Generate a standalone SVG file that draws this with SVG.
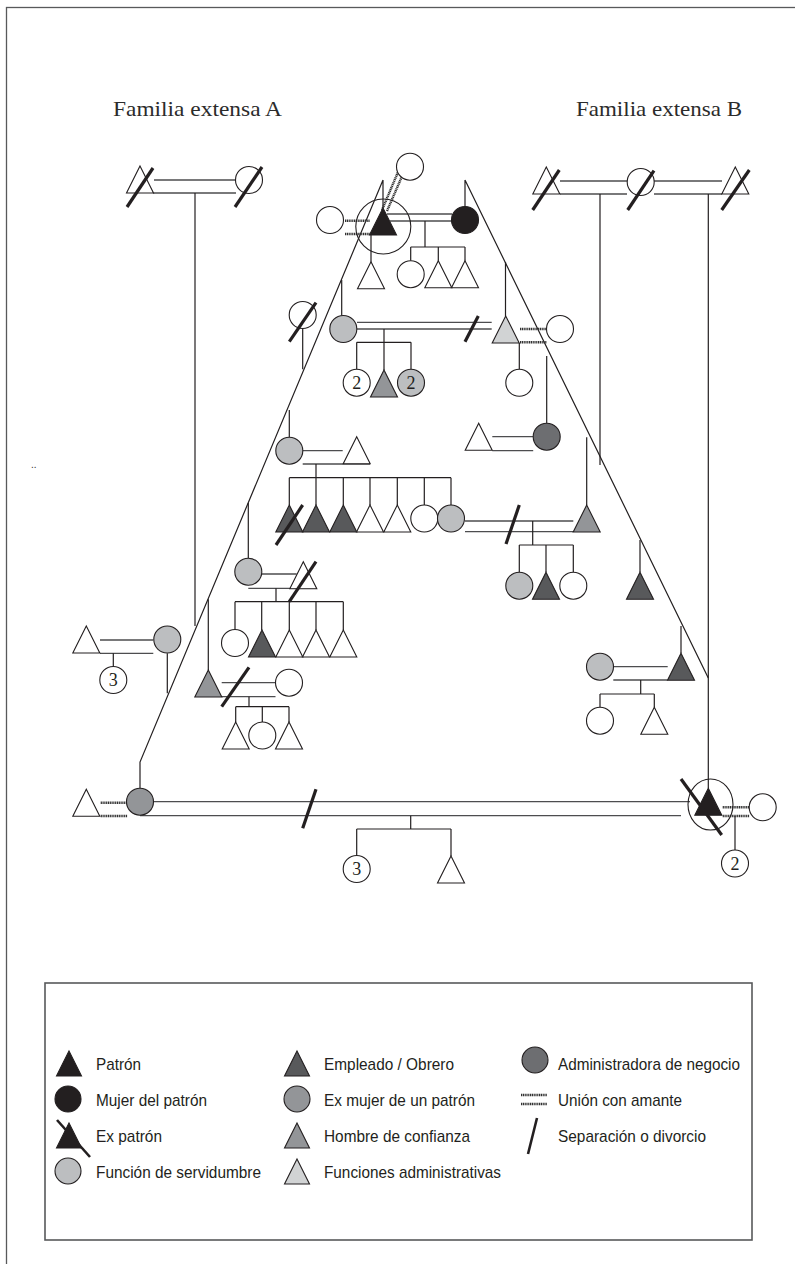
<svg xmlns="http://www.w3.org/2000/svg" width="795" height="1264" viewBox="0 0 795 1264">
<defs>
<polygon id="tri" points="0,0 13.5,27 -13.5,27"/>
<circle id="cir" r="13.5"/>
<polygon id="ltri" points="0,0 12.5,25 -12.5,25"/>
<circle id="lcir" r="13"/>
</defs>
<style>
.frame{fill:none;stroke:#58595b;stroke-width:1.3}
.ln{fill:none;stroke:#231f20;stroke-width:1.2}
.dbl{fill:none;stroke:#4d4d4f;stroke-width:1.3}
.lover{fill:none;stroke:#333;stroke-width:2.4;stroke-dasharray:1.2 0.6}
.slash{fill:none;stroke:#231f20;stroke-width:3.2}
.sym{stroke:#231f20;stroke-width:1.1}
.outline{fill:none;stroke:#231f20;stroke-width:1.1}
.white{fill:#fff}
.black{fill:#231f20}
.dark{fill:#58595b}
.admin{fill:#6d6e71}
.mid{fill:#939598}
.light{fill:#bcbec0}
.lightt{fill:#d1d3d4}
.num{font-family:"Liberation Serif","Times New Roman",serif;font-size:18px;text-anchor:middle;fill:#231f20}
.title{font-family:"Liberation Serif","Times New Roman",serif;font-size:21px;fill:#2b2b2b}
.leg{font-family:"Liberation Sans Narrow","Liberation Sans",Arial,sans-serif;font-size:17px;fill:#231f20}
.legbox{fill:none;stroke:#58595b;stroke-width:1.6}
</style>
<rect width="795" height="1264" fill="#fff"/>
<rect class="frame" x="6.5" y="7.5" width="820" height="1300"/>
<text class="title" x="113" y="116" textLength="169" lengthAdjust="spacingAndGlyphs">Familia extensa A</text>
<text class="title" x="576" y="116" textLength="166" lengthAdjust="spacingAndGlyphs">Familia extensa B</text>
<text x="31" y="468" font-family="Liberation Sans,sans-serif" font-size="10" fill="#333">..</text>

<g id="connectors">
<path class="ln" d="M383,180 L140,762 V788 M383,180 V208 M465,180 L708.3,678 M465,180 V206.5"/>
<path class="dbl" d="M154,180 H235.5 M153,193 H236"/>
<path class="ln" d="M195,193 V626"/>
<path class="dbl" d="M560,181 H627 M560,194 H627 M654,181 H722 M654,194 H722"/>
<path class="ln" d="M600,194 V465 M708.3,194 V788.3"/>
<path class="dbl" d="M387,214 H452 M390,221 H452"/>
<path class="ln" d="M425,221 V247 M410.7,247 H465 M410.7,247 V260.7 M438.3,247 V260.7 M465,247 V260.7 M371,235 V261.7"/>
<path class="lover" d="M345,220.7 H370 M345,234 H370 M382,210 L398,172 M387,211 L403,174"/>
<path class="ln" d="M341.7,280 V315.5 M302.7,328.5 V369.3 M505.5,262 V316 M519.3,343 V369.3 M546.7,356 V423.2"/>
<path class="dbl" d="M357,322.3 H491.7 M357,329 H491.7"/>
<path class="slash" d="M465,341.7 L478.3,316"/>
<path class="ln" d="M384,329 V370 M356.7,342.3 H411 M356.7,342.3 V369.2 M411,342.3 V369.2"/>
<path class="lover" d="M520,329 H546.5 M520,342.3 H546.5"/>
<path class="dbl" d="M492.3,436.7 H533.2 M492.3,450.7 H533.2"/>
<path class="ln" d="M289.3,410 V437.2"/>
<path class="dbl" d="M302.7,450.7 H342.7 M302.7,464 H370"/>
<path class="ln" d="M316,464 V477.7 M289.3,477.7 H451 M289.3,477.7 V505 M316,477.7 V505 M343.3,477.7 V505 M370,477.7 V505 M397.3,477.7 V505 M424.3,477.7 V505 M451,477.7 V505"/>
<path class="dbl" d="M465,521 H573.3 M465,531.7 H573.3"/>
<path class="slash" d="M506,544 L519.3,505"/>
<path class="ln" d="M532.7,521 V545 M519.3,545 H573.3 M519.3,545 V572.2 M546,545 V572.3 M573.3,545 V572.2 M586.7,437.3 V505"/>
<path class="ln" d="M640,540 V572.3 M681,626 V653.3"/>
<path class="dbl" d="M613.3,666.7 H667.7 M613.3,680 H667.7"/>
<path class="ln" d="M640.7,680 V694 M600,694 H654.3 M600,694 V707.2 M654.3,694 V707.3"/>
<path class="ln" d="M248.3,503 V558.2"/>
<path class="dbl" d="M261.7,574 H296.7 M248.3,588.3 H316.7"/>
<path class="ln" d="M276,588.3 V601.7 M235,601.7 H343.3 M235,601.7 V629.5 M261.7,601.7 V630 M289.3,601.7 V630 M316,601.7 V630 M343.3,601.7 V630"/>
<path class="ln" d="M208.3,599.3 V670"/>
<path class="dbl" d="M221.7,682.7 H275.5 M221.7,696.7 H275.5"/>
<path class="slash" d="M221.7,706.7 L249,667.3"/>
<path class="ln" d="M249,696.7 V706.7 M235.7,706.7 H289 M235.7,706.7 V722 M262.3,706.7 V722 M289,706.7 V722"/>
<path class="dbl" d="M100,640 H153.3 M100,653.3 H153.3"/>
<path class="ln" d="M113.3,653.3 V666.5 M167.3,653.2 V693.3"/>
<path class="lover" d="M100.7,802.7 H127.3 M100.7,816 H127.3"/>
<path class="dbl" d="M154,801.7 H690 M140,815.7 H681"/>
<path class="slash" d="M302.7,828.3 L316,789.3"/>
<path class="ln" d="M410.7,815.7 V829 M356.7,829 H451 M356.7,829 V855.5 M451,829 V856"/>
<path class="lover" d="M722.7,807.3 H749.3 M722.7,816 H749.3"/>
<path class="ln" d="M735,816 V850"/>
</g>

<g id="famA-husband"><use href="#tri" x="140" y="166" class="sym white"/><path class="slash" d="M127,207 L153,168"/></g>
<g id="famA-wife"><use href="#cir" x="249" y="180" class="sym white"/><path class="slash" d="M235,207 L262,167"/></g>
<g id="famB-husband1"><use href="#tri" x="546.3" y="167" class="sym white"/><path class="slash" d="M532.7,210 L559.3,170"/></g>
<g id="famB-wife"><use href="#cir" x="640.7" y="182" class="sym white"/><path class="slash" d="M627.7,210 L654,170.7"/></g>
<g id="famB-husband2"><use href="#tri" x="735.3" y="167" class="sym white"/><path class="slash" d="M721.7,210 L749.3,170"/></g>

<g id="patron"><circle class="outline" cx="383.3" cy="226.5" r="27.5"/><use href="#tri" x="383" y="208" class="sym black"/></g>
<g id="patron-wife"><use href="#cir" x="465" y="220" class="sym black"/></g>
<g id="patron-lover1"><use href="#cir" x="330" y="220" class="sym white"/></g>
<g id="patron-lover2"><use href="#cir" x="410" y="166.7" class="sym white"/></g>
<g id="patron-child1"><use href="#tri" x="371" y="261.7" class="sym white"/></g>
<g id="patron-child2"><use href="#cir" x="410.7" y="274.2" class="sym white"/></g>
<g id="patron-child3"><use href="#tri" x="438.3" y="260.7" class="sym white"/></g>
<g id="patron-child4"><use href="#tri" x="465" y="260.7" class="sym white"/></g>

<g id="g2-exwife"><use href="#cir" x="302.7" y="315" class="sym white"/><path class="slash" d="M289.3,341.7 L316,302.7"/></g>
<g id="g2-servant"><use href="#cir" x="343.3" y="329" class="sym light"/></g>
<g id="g2-admin-man"><use href="#tri" x="505.7" y="316" class="sym lightt"/></g>
<g id="g2-lover"><use href="#cir" x="560" y="329" class="sym white"/></g>
<g id="g2-child-right"><use href="#cir" x="519.3" y="382.8" class="sym white"/></g>
<g id="g2-child1"><use href="#cir" x="356.7" y="382.7" class="sym white"/><text class="num" x="356.7" y="388.7">2</text></g>
<g id="g2-child2"><use href="#tri" x="384" y="370" class="sym mid"/></g>
<g id="g2-child3"><use href="#cir" x="411" y="382.7" class="sym light"/><text class="num" x="411" y="388.7">2</text></g>
<g id="admin-husband"><use href="#tri" x="478.7" y="423.3" class="sym white"/></g>
<g id="admin-woman"><use href="#cir" x="546.7" y="436.7" class="sym admin"/></g>

<g id="g3-mother"><use href="#cir" x="289.3" y="450.7" class="sym light"/></g>
<g id="g3-father"><use href="#tri" x="356.7" y="436.7" class="sym white"/></g>
<g id="g3-child1"><use href="#tri" x="289.3" y="505" class="sym dark"/><path class="slash" d="M276,545 L302.7,505"/></g>
<g id="g3-child2"><use href="#tri" x="316" y="505" class="sym dark"/></g>
<g id="g3-child3"><use href="#tri" x="343.3" y="505" class="sym dark"/></g>
<g id="g3-child4"><use href="#tri" x="370" y="505" class="sym white"/></g>
<g id="g3-child5"><use href="#tri" x="397.3" y="505" class="sym white"/></g>
<g id="g3-child6"><use href="#cir" x="424.3" y="518.5" class="sym white"/></g>
<g id="g3-child7"><use href="#cir" x="451" y="518.5" class="sym light"/></g>
<g id="trusted-man"><use href="#tri" x="586.7" y="505" class="sym mid"/></g>
<g id="g4-child1"><use href="#cir" x="519.3" y="585.7" class="sym light"/></g>
<g id="g4-child2"><use href="#tri" x="546" y="572.3" class="sym dark"/></g>
<g id="g4-child3"><use href="#cir" x="573.3" y="585.7" class="sym white"/></g>

<g id="right-worker1"><use href="#tri" x="640" y="572.3" class="sym dark"/></g>
<g id="right-worker2"><use href="#tri" x="681" y="653.3" class="sym dark"/></g>
<g id="right-wife"><use href="#cir" x="600" y="666.7" class="sym light"/></g>
<g id="right-child1"><use href="#cir" x="600" y="720.7" class="sym white"/></g>
<g id="right-child2"><use href="#tri" x="654.3" y="707.3" class="sym white"/></g>

<g id="left-mother"><use href="#cir" x="248.3" y="571.7" class="sym light"/></g>
<g id="left-father"><use href="#tri" x="303.3" y="561.7" class="sym white"/><path class="slash" d="M289.3,601.7 L316,561.7"/></g>
<g id="left-child1"><use href="#cir" x="235" y="643" class="sym white"/></g>
<g id="left-child2"><use href="#tri" x="262" y="630" class="sym dark"/></g>
<g id="left-child3"><use href="#tri" x="289.3" y="630" class="sym white"/></g>
<g id="left-child4"><use href="#tri" x="316" y="630" class="sym white"/></g>
<g id="left-child5"><use href="#tri" x="343.3" y="630" class="sym white"/></g>
<g id="trusted-man-left"><use href="#tri" x="208.3" y="670" class="sym mid"/></g>
<g id="trusted-wife-left"><use href="#cir" x="289" y="682.7" class="sym white"/></g>
<g id="tl-child1"><use href="#tri" x="235.7" y="722" class="sym white"/></g>
<g id="tl-child2"><use href="#cir" x="262.3" y="735.5" class="sym white"/></g>
<g id="tl-child3"><use href="#tri" x="289" y="722" class="sym white"/></g>
<g id="far-left-husband"><use href="#tri" x="86.3" y="626" class="sym white"/></g>
<g id="far-left-wife"><use href="#cir" x="167.3" y="639.5" class="sym light"/></g>
<g id="far-left-children"><use href="#cir" x="113.3" y="680" class="sym white"/><text class="num" x="113.3" y="686">3</text></g>

<g id="bottom-lover-left"><use href="#tri" x="86.3" y="789.3" class="sym white"/></g>
<g id="bottom-exwife"><use href="#cir" x="140" y="801.7" class="sym mid"/></g>
<g id="bottom-children1"><use href="#cir" x="356.7" y="869" class="sym white"/><text class="num" x="356.7" y="875">3</text></g>
<g id="bottom-child2"><use href="#tri" x="451" y="856" class="sym white"/></g>
<g id="ex-patron"><ellipse class="outline" cx="710.5" cy="804.5" rx="22.5" ry="25.5"/><use href="#tri" x="708.3" y="788.3" class="sym black"/><path class="slash" d="M681,779 L721.7,835"/></g>
<g id="ex-patron-lover"><use href="#cir" x="762.7" y="807.3" class="sym white"/></g>
<g id="ex-patron-children"><use href="#cir" x="735" y="863.5" class="sym white"/><text class="num" x="735" y="869.5">2</text></g>

<g id="legend">
<rect class="legbox" x="45" y="983" width="707" height="257"/>
<use href="#ltri" x="69" y="1051" class="sym black"/>
<text class="leg" x="96" y="1070" textLength="45" lengthAdjust="spacingAndGlyphs">Patrón</text>
<use href="#lcir" x="68" y="1099" class="sym black"/>
<text class="leg" x="96" y="1106" textLength="111" lengthAdjust="spacingAndGlyphs">Mujer del patrón</text>
<use href="#ltri" x="69" y="1123" class="sym black"/>
<path class="slash" d="M57,1120 L90,1157" style="stroke-width:2.6"/>
<text class="leg" x="96" y="1142" textLength="66" lengthAdjust="spacingAndGlyphs">Ex patrón</text>
<use href="#lcir" x="68" y="1171" class="sym light"/>
<text class="leg" x="96" y="1178" textLength="165" lengthAdjust="spacingAndGlyphs">Función de servidumbre</text>
<use href="#ltri" x="297" y="1051" class="sym dark"/>
<text class="leg" x="324" y="1070" textLength="130" lengthAdjust="spacingAndGlyphs">Empleado / Obrero</text>
<use href="#lcir" x="297" y="1099" class="sym mid"/>
<text class="leg" x="324" y="1106" textLength="151" lengthAdjust="spacingAndGlyphs">Ex mujer de un patrón</text>
<use href="#ltri" x="297" y="1123" class="sym mid"/>
<text class="leg" x="324" y="1142" textLength="146" lengthAdjust="spacingAndGlyphs">Hombre de confianza</text>
<use href="#ltri" x="297" y="1159" class="sym lightt"/>
<text class="leg" x="324" y="1178" textLength="177" lengthAdjust="spacingAndGlyphs">Funciones administrativas</text>
<use href="#lcir" x="535" y="1060" class="sym admin"/>
<text class="leg" x="558" y="1070" textLength="182" lengthAdjust="spacingAndGlyphs">Administradora de negocio</text>
<path class="lover" d="M521,1095 H547 M521,1104 H547"/>
<text class="leg" x="558" y="1106" textLength="124" lengthAdjust="spacingAndGlyphs">Unión con amante</text>
<path class="slash" d="M537,1118 L528,1154" style="stroke-width:2.6"/>
<text class="leg" x="558" y="1142" textLength="148" lengthAdjust="spacingAndGlyphs">Separación o divorcio</text>
</g>
</svg>
